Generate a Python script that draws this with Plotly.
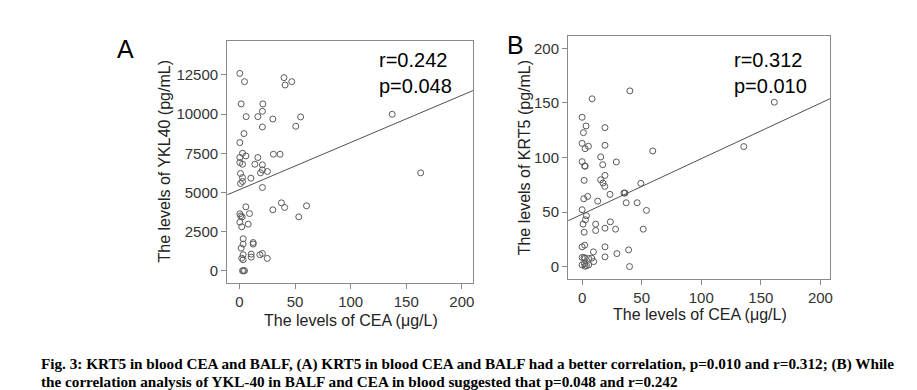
import plotly.graph_objects as go

# ---------------- data ----------------
cea_a = [0.3, 4.5, 40, 47, 41, 1.5, 21, 20.6, 6, 16.5, 30, 55, 20.6, 50.6, 137.4,
         4, 0.3, 2.7, 5.7, 0.3, 16.5, 30.5, 36.5, 0.3, 2.7, 13.8, 20.6, 0.9, 2.7,
         10.2, 18.9, 25.1, 20.6, 163, 0.9, 2.7, 20.6, 5.7, 37.7, 40.6, 60.3, 30,
         53.3, 0.3, 1, 2.4, 9, 0.3, 7.8, 2, 3.3, 3.3, 1.5, 12.3, 12.3, 3.3, 10.5,
         10.5, 18.3, 20.6, 2, 25, 3.3, 2.7, 4.5, 3.5]
ykl40 = [12600, 12075, 12330, 12075, 11860, 10650, 10650, 10180, 9840, 9840, 9690,
         9820, 9180, 9225, 9990, 8760, 8185, 7500, 7330, 7230, 7230, 7440, 7440,
         6910, 6800, 6800, 6760, 6207, 5952, 5910, 6250, 6335, 6440, 6250, 5570,
         5700, 5315, 4080, 4335, 4040, 4145, 3890, 3440, 3635, 3500, 3440, 3650,
         3100, 2975, 2805, 2040, 1700, 1445, 1800, 1700, 1020, 1060, 870, 1020,
         1100, 800, 785, 700, 0, 0, 0]

cea_b = [40.1, 8.4, 161.3, 0, 3.3, 19.2, 1.1, 0, 5.3, 2.5, 19.2, 59.3, 135.7, 15.6,
         0, 2.2, 2.6, 17.3, 28.7, 19.2, 1.7, 15.6, 17.5, 19, 49.3, 4.7, 1.4, 23.4,
         35.1, 36, 13.1, 37, 46.2, 54, 0, 3.6, 2.8, 0.8, 11.4, 11.4, 23.7, 19.2,
         28.1, 51.3, 1.7, 0, 2.2, 19.2, 19.2, 9.5, 29.2, 39, 39.8, 0, 1.7, 2.5,
         5.5, 8.1, 9.7, 0, 2.5, 3.6, 5.5, 2]
krt5 = [161.1, 153.8, 150.7, 136.9, 128.9, 127.4, 122.8, 113, 110.3, 108.1, 111.2,
        106, 110, 100.5, 96.2, 92.2, 92.0, 93.4, 95.9, 83.6, 79, 79.6, 76.6, 73.5,
        76.3, 64.3, 62.2, 66.2, 67.4, 67.4, 60, 58.5, 58.5, 51.5, 52.1, 46.6, 42.9,
        38.9, 38.9, 33.1, 41, 35.2, 34.3, 34.3, 31.5, 18.1, 19.6, 18.1, 8.9, 13.5,
        11.9, 15.3, 0, 8.3, 8.3, 7.5, 7.5, 7.7, 4.6, 1.5, 0.3, 0.9, 1.5, 2.5]

# regression fits (intercept, slope)
fit_a = (5180, 30.1)
fit_b = (48.0, 0.509)

xticks_a = [0, 50, 100, 150, 200]
yticks_a = [0, 2500, 5000, 7500, 10000, 12500]
xticks_b = [0, 50, 100, 150, 200]
yticks_b = [0, 50, 100, 150, 200]

stats_a = "r=0.242<br>p=0.048"
stats_b = "r=0.312<br>p=0.010"
xtitle = "The levels of CEA (μg/L)"
ytitle_a = "The levels of YKL40 (pg/mL)"
ytitle_b = "The levels of KRT5 (pg/mL)"
caption_1 = ("Fig. 3: KRT5 in blood CEA and BALF, (A) KRT5 in blood CEA and BALF had a better "
             "correlation, p=0.010 and r=0.312; (B) While")
caption_2 = "the correlation analysis of YKL-40 in BALF and CEA in blood suggested that p=0.048 and r=0.242"

# ---------------- layout geometry ----------------
W, H = 917, 390
xr_a = [-11, 210.5]
yr_a = [-784, 14670]
xr_b = [-11.7, 208.3]
yr_b = [-11.4, 211.4]


def px(x):
    return x / W


def py(y):
    return 1 - y / H


MARK = dict(symbol="circle-open", size=6, color="#5a5a5a", line=dict(width=1, color="#5a5a5a"))
LINE = dict(color="#505050", width=1)

fig = go.Figure()
fig.add_trace(go.Scatter(x=cea_a, y=ykl40, mode="markers", marker=MARK,
                         xaxis="x", yaxis="y", showlegend=False))
fig.add_trace(go.Scatter(x=xr_a, y=[fit_a[0] + fit_a[1] * v for v in xr_a], mode="lines",
                         line=LINE, xaxis="x", yaxis="y", showlegend=False))
fig.add_trace(go.Scatter(x=cea_b, y=krt5, mode="markers", marker=MARK,
                         xaxis="x2", yaxis="y2", showlegend=False))
fig.add_trace(go.Scatter(x=xr_b, y=[fit_b[0] + fit_b[1] * v for v in xr_b], mode="lines",
                         line=LINE, xaxis="x2", yaxis="y2", showlegend=False))

TICKFONT = dict(family="Liberation Sans, Arial", size=15, color="#333333")
AX = dict(showgrid=False, zeroline=False, showline=True, linecolor="#8a8a8a", linewidth=1.3,
          mirror=True, ticks="outside", ticklen=5, tickcolor="#8a8a8a", tickfont=TICKFONT,
          tickformat="d")

fig.update_layout(
    width=W, height=H, margin=dict(l=0, r=0, t=0, b=0),
    paper_bgcolor="white", plot_bgcolor="white",
    xaxis=dict(domain=[px(220), px(467)], range=xr_a, tickvals=xticks_a, anchor="y", **AX),
    yaxis=dict(domain=[py(275), py(33)], range=yr_a, tickvals=yticks_a, anchor="x", **AX),
    xaxis2=dict(domain=[px(562), px(825)], range=xr_b, tickvals=xticks_b, anchor="y2", **AX),
    yaxis2=dict(domain=[py(271), py(28)], range=yr_b, tickvals=yticks_b, anchor="x2", **AX),
)

TF = dict(family="Liberation Sans, Arial", size=16, color="#222222")
SF = dict(family="Liberation Sans, Arial", size=20, color="black")
CF = dict(family="Liberation Serif, Times New Roman", size=15.2, color="black")
ann = [
    dict(text=xtitle, x=px(344), y=py(312), font=TF),
    dict(text=xtitle, x=px(694), y=py(306), font=TF),
    dict(text=ytitle_a, x=px(158), y=py(153), textangle=-90, font=TF),
    dict(text=ytitle_b, x=px(518), y=py(150), textangle=-90, font=TF),
    dict(text=stats_a, x=px(370), y=py(65), xanchor="left", font=SF, align="left"),
    dict(text=stats_b, x=px(726), y=py(65), xanchor="left", font=SF, align="left"),
    dict(text="A", x=px(118), y=py(41), font=dict(family="Liberation Sans, Arial", size=25, color="black")),
    dict(text="B", x=px(509), y=py(37), font=dict(family="Liberation Sans, Arial", size=25, color="black")),
    dict(text="<b>" + caption_1 + "</b>", x=px(31), y=py(356), xanchor="left", align="left", font=CF),
    dict(text="<b>" + caption_2 + "</b>", x=px(31), y=py(373), xanchor="left", align="left", font=CF),
]
for a in ann:
    a.setdefault("xanchor", "center")
    a.setdefault("yanchor", "middle")
    a.update(xref="paper", yref="paper", showarrow=False)
fig.update_layout(annotations=ann)

fig.write_html("out.html")
